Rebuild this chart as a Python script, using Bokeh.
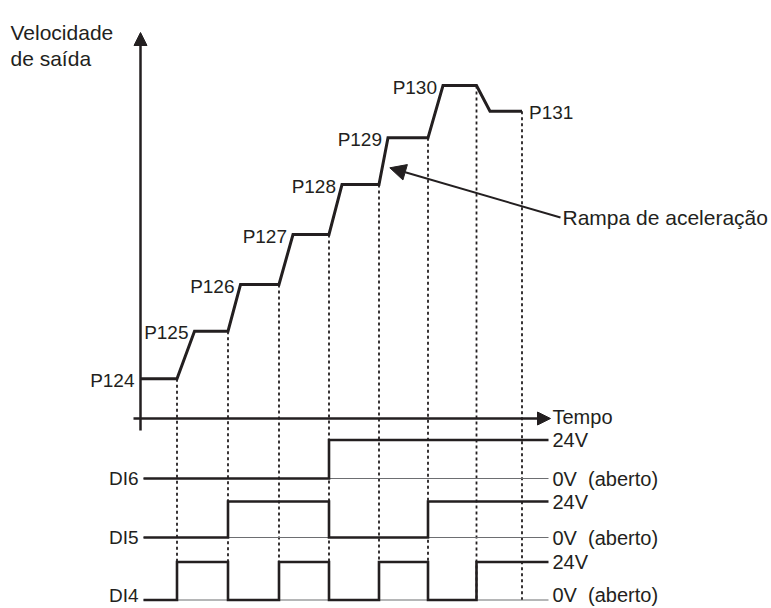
from bokeh.plotting import figure
from bokeh.models import Range1d, Arrow, NormalHead, ColumnDataSource
from bokeh.core.properties import value
from bokeh.embed import file_html
from bokeh.resources import INLINE

# ---------------- data ----------------
params = ["P124", "P125", "P126", "P127", "P128", "P129", "P130", "P131"]
speed = [3.97, 8.73, 13.4, 18.4, 23.4, 28.07, 33.3, 30.73]      # output speed levels
t_switch = [0.73, 1.75, 2.77, 3.77, 4.77, 5.75, 6.72]            # DI change instants
t_reached = [1.08, 2.0, 3.05, 4.03, 4.95, 6.05, 6.99]            # end of each ramp
t_final = 7.63
di6 = [0, 0, 0, 0, 1, 1, 1, 1]
di5 = [0, 0, 1, 1, 0, 0, 1, 1]
di4 = [0, 1, 0, 1, 0, 1, 0, 1]
di_names = ["DI6", "DI5", "DI4"]
hi_label = "24V"
lo_label = "0V\u00a0\u00a0(aberto)"

# ---------------- layout ----------------
INK = "#231f20"
FONT = value("Liberation Sans")
lane_low = [-6.0, -11.9, -18.15]
lane_high = [-2.15, -8.3, -14.35]
lane_dy = [0, 0, -5]          # keep the bottom row of labels inside the canvas
lane_x0, lane_x1 = 0.06, 8.16

p = figure(width=771, height=608, output_backend="svg", toolbar_location=None,
           x_range=Range1d(-2.8, 12.62), y_range=Range1d(-19.0, 41.8),
           x_axis_type=None, y_axis_type=None, min_border=0)
p.outline_line_color = None
p.grid.visible = False
p.background_fill_color = "white"
p.border_fill_color = "white"

# dotted guide lines at every switching instant
guide_t = t_switch + [t_final]
for i, t in enumerate(guide_t):
    p.line([t, t], [speed[i], lane_low[-1]], line_color=INK, line_width=1.8,
           line_dash="3 3")

# speed profile
xs, ys = [0.0], [speed[0]]
for i, (ts, tr) in enumerate(zip(t_switch, t_reached)):
    xs += [ts, tr]
    ys += [speed[i], speed[i + 1]]
xs.append(t_final)
ys.append(speed[-1])
p.line(xs, ys, line_color=INK, line_width=3, line_join="miter")

# axes arrows
p.add_layout(Arrow(end=NormalHead(size=13, fill_color=INK, line_color=INK, line_width=1),
                   x_start=0, y_start=-1.2, x_end=0, y_end=38.6,
                   line_color=INK, line_width=2.5))
p.add_layout(Arrow(end=NormalHead(size=13, fill_color=INK, line_color=INK, line_width=1),
                   x_start=-0.14, y_start=0, x_end=8.2, y_end=0,
                   line_color=INK, line_width=2.5))

# digital input traces
bounds = [lane_x0] + t_switch + [lane_x1]
for states, lo, hi in zip([di6, di5, di4], lane_low, lane_high):
    p.line([lane_x0, lane_x1], [lo, lo], line_color="#6d6e71", line_width=1.2)
    sx, sy = [], []
    for k, st in enumerate(states):
        lvl = hi if st else lo
        sx += [bounds[k], bounds[k + 1]]
        sy += [lvl, lvl]
    p.line(sx, sy, line_color=INK, line_width=2.6, line_join="miter")

# DI names on the left
left_src = ColumnDataSource(dict(x=[lane_x0] * 3, y=lane_low, t=di_names, dy=lane_dy))
p.text(x="x", y="y", text="t", source=left_src, text_font=FONT,
       text_font_size="19px", text_align="right", text_baseline="middle",
       x_offset=-5, y_offset="dy", text_color=INK)

# level labels on the right
right_src = ColumnDataSource(dict(x=[lane_x1 + 0.08] * 6, y=lane_high + lane_low,
                                  t=[hi_label] * 3 + [lo_label] * 3,
                                  dy=[0, 0, 0] + lane_dy))
p.text(x="x", y="y", text="t", source=right_src, text_font=FONT,
       text_font_size="20px", text_align="left", text_baseline="middle",
       y_offset="dy", text_color=INK)

# parameter labels
lab_x = [0.0] + t_reached
src = ColumnDataSource(dict(x=lab_x, y=speed[:7], t=params[:7]))
p.text(x="x", y="y", text="t", source=src, text_font=FONT, text_font_size="19px",
       text_align="right", text_baseline="middle", x_offset=-6, y_offset=1.5,
       text_color=INK)
p.text(x=[t_final], y=[speed[-1]], text=[params[-1]], text_font=FONT,
       text_font_size="19px", text_align="left", text_baseline="middle",
       x_offset=7, y_offset=1.5, text_color=INK)

# titles
p.text(x=[-2.6, -2.6], y=[38.57, 35.97], text=["Velocidade", "de saída"],
       text_font=FONT, text_font_size="21px", text_align="left",
       text_baseline="alphabetic", text_color=INK)
p.text(x=[8.24], y=[0], text=["Tempo"], text_font=FONT, text_font_size="20px",
       text_align="left", text_baseline="middle", y_offset=-2, text_color=INK)

# ramp annotation
p.add_layout(Arrow(end=NormalHead(size=16, fill_color=INK, line_color=INK, line_width=1),
                   x_start=8.4, y_start=20.1, x_end=4.986, y_end=25.07,
                   line_color=INK, line_width=2))
p.text(x=[8.44], y=[20.1], text=["Rampa de aceleração"], text_font=FONT,
       text_font_size="21px", text_align="left", text_baseline="middle",
       text_color=INK)

open("out.html", "w").write(file_html(p, INLINE))
